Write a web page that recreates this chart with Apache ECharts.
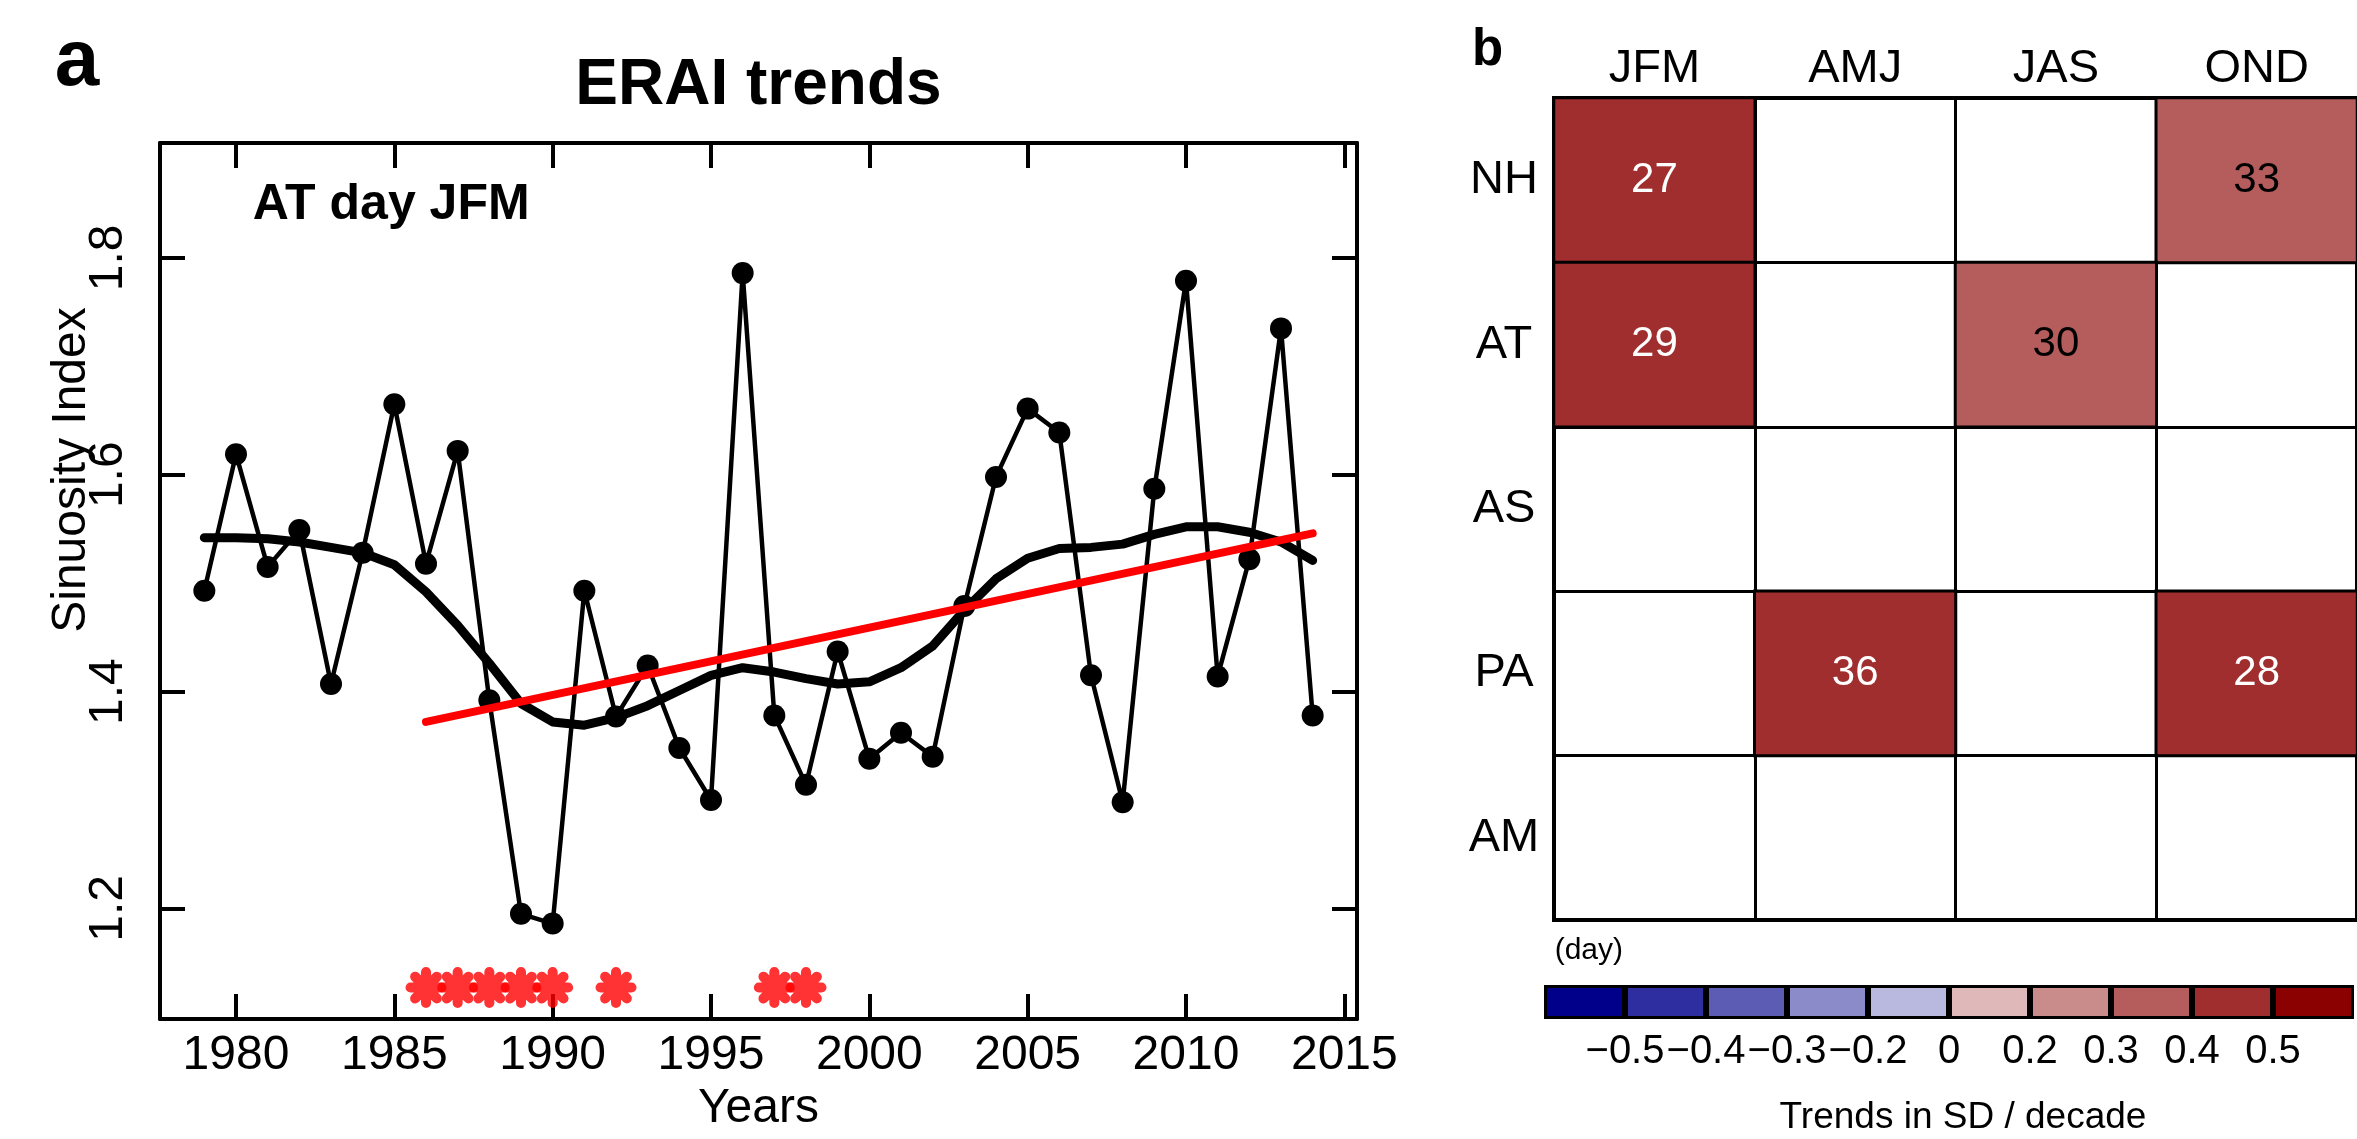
<!DOCTYPE html>
<html>
<head>
<meta charset="utf-8">
<script src="https://cdn.jsdelivr.net/npm/echarts@6/dist/echarts.min.js"></script>
<style>
html,body{margin:0;padding:0;background:#fff;}
#c{width:2357px;height:1139px;}
</style>
</head>
<body>
<div id="c"></div>
<script>
// ---------- Panel a data ----------
const years = [1979,1980,1981,1982,1983,1984,1985,1986,1987,1988,1989,1990,1991,1992,1993,1994,1995,1996,
               1997,1998,1999,2000,2001,2002,2003,2004,2005,2006,2007,2008,2009,2010,2011,2012,2013,2014];
const sinuosity = [1.493,1.619,1.515,1.549,1.407,1.528,1.665,1.518,1.622,1.392,1.195,1.186,1.493,1.377,1.424,1.348,1.300,1.786,
                   1.378,1.314,1.437,1.338,1.362,1.340,1.479,1.598,1.661,1.639,1.415,1.298,1.587,1.779,1.414,1.522,1.735,1.378];
const smoothed = [1.542,1.542,1.541,1.538,1.533,1.528,1.517,1.492,1.461,1.426,1.389,1.372,1.369,1.376,1.387,1.401,1.415,1.422,
                  1.418,1.412,1.407,1.409,1.422,1.442,1.475,1.504,1.523,1.532,1.533,1.536,1.545,1.552,1.552,1.547,1.538,1.521];
const trendYears = [1986, 2014];
const trendValues = [1.372, 1.546];
const starYears = [1986,1987,1988,1989,1990,1992,1997,1998];
const starLevel = 1.127;
const xTicks = [1980,1985,1990,1995,2000,2005,2010,2015];
const xTickLabels = ['1980','1985','1990','1995','2000','2005','2010','2015'];
const yTicks = [1.2,1.4,1.6,1.8];
const yTickLabels = ['1.2','1.4','1.6','1.8'];

// ---------- Panel b data ----------
const seasons = ['JFM','AMJ','JAS','OND'];
const regions = ['NH','AT','AS','PA','AM'];
const cellSeason = ['JFM','OND','JFM','JAS','AMJ','OND'];
const cellRegion = ['NH','NH','AT','AT','PA','PA'];
const cellTrend  = [0.45,0.35,0.45,0.35,0.45,0.45];
const cellLabel  = [27,33,29,30,36,28];
const colorBreaks = [-0.5,-0.4,-0.3,-0.2,0,0.2,0.3,0.4,0.5];
const colorBreakLabels = ['\u22120.5','\u22120.4','\u22120.3','\u22120.2','0','0.2','0.3','0.4','0.5'];
const binColors = ['#00008B','#2E2EA0','#5C5CB5','#8B8BCA','#B9B9DF','#DFB9B9','#CA8B8B','#B55C5C','#A02E2E','#8B0000'];

// ---------- build ----------
const FONT = '"Liberation Sans", Arial, Helvetica, sans-serif';
const STAR = 'path://' +
  'M-8,-2.6 L8,-2.6 A2.6,2.6 0 0 1 8,2.6 L-8,2.6 A2.6,2.6 0 0 1 -8,-2.6 Z ' +
  'M2.6,-8 L2.6,8 A2.6,2.6 0 0 1 -2.6,8 L-2.6,-8 A2.6,2.6 0 0 1 2.6,-8 Z ' +
  'M7.495,3.819 A2.6,2.6 0 0 1 3.819,7.495 L-7.495,-3.819 A2.6,2.6 0 0 1 -3.819,-7.495 Z ' +
  'M3.819,-7.495 A2.6,2.6 0 0 1 7.495,-3.819 L-3.819,7.495 A2.6,2.6 0 0 1 -7.495,3.819 Z';
const black4 = {color:'#000', width:4};
const tickStyle = {color:'#000', width:4};

const pieces = [];
for (let i = 0; i <= colorBreaks.length; i++) {
  const p = {color: binColors[i]};
  if (i > 0) p.gte = colorBreaks[i-1];
  if (i < colorBreaks.length) p.lt = colorBreaks[i];
  pieces.push(p);
}

const heatData = cellTrend.map((t, i) => ({
  value: [seasons.indexOf(cellSeason[i]), regions.indexOf(cellRegion[i]), t],
  label: {color: t >= 0.4 ? '#FFFFFF' : '#000000'}
}));

function nearestLabel(v, ticks, labels) {
  let best = 0;
  for (let i = 1; i < ticks.length; i++) if (Math.abs(ticks[i]-v) < Math.abs(ticks[best]-v)) best = i;
  return labels[best];
}

const chart = echarts.init(document.getElementById('c'), null, {renderer:'canvas', width:2357, height:1139});
chart.setOption({
  animation: false,
  backgroundColor: '#FFFFFF',
  textStyle: {fontFamily: FONT},
  grid: [
    {left:160, top:143, width:1197, height:876},
    {left:1554, top:98, width:822, height:822, show:true, borderColor:'#000', borderWidth:4, backgroundColor:'transparent'},
    {left:1544, top:985, width:838, height:34}
  ],
  xAxis: [
    {gridIndex:0, type:'value', min:1977.6, max:2015.4, position:'bottom',
     axisLine:{show:true, onZero:false, lineStyle:black4},
     axisTick:{show:true, inside:true, length:25, lineStyle:tickStyle, customValues:xTicks},
     axisLabel:{show:true, customValues:xTicks, fontSize:48, fontFamily:FONT, color:'#000', margin:13,
       formatter: v => nearestLabel(v, xTicks, xTickLabels)},
     splitLine:{show:false},
     name:'Years', nameLocation:'middle', nameGap:66,
     nameTextStyle:{fontSize:48, fontFamily:FONT, color:'#000'}},
    {gridIndex:0, type:'value', min:1977.6, max:2015.4, position:'top',
     axisLine:{show:true, onZero:false, lineStyle:black4},
     axisTick:{show:true, inside:true, length:25, lineStyle:tickStyle, customValues:xTicks},
     axisLabel:{show:false}, splitLine:{show:false}},
    {gridIndex:1, type:'category', data:seasons, position:'top',
     axisLine:{show:false}, axisTick:{show:false},
     axisLabel:{fontSize:47, fontFamily:FONT, color:'#000', margin:5, interval:0},
     splitLine:{show:true, interval:0, lineStyle:{color:'#000', width:3}}},
    {gridIndex:2, type:'category', data:binColors.map((c,i)=>String(i)), position:'top', show:false},
    {gridIndex:2, type:'value', min:0, max:10, interval:1, position:'bottom',
     axisLine:{show:false}, axisTick:{show:false}, splitLine:{show:false},
     axisLabel:{fontSize:40, fontFamily:FONT, color:'#000', margin:13,
       formatter: v => { const k = Math.round(v); return (k >= 1 && k <= colorBreakLabels.length) ? colorBreakLabels[k-1] : ''; }}}
  ],
  yAxis: [
    {gridIndex:0, type:'value', min:1.098, max:1.906, position:'left',
     axisLine:{show:true, onZero:false, lineStyle:black4},
     axisTick:{show:true, inside:true, length:25, lineStyle:tickStyle, customValues:yTicks},
     axisLabel:{show:true, customValues:yTicks, rotate:90, fontSize:48, fontFamily:FONT, color:'#000', margin:27,
       formatter: v => nearestLabel(v, yTicks, yTickLabels)},
     splitLine:{show:false}},
    {gridIndex:0, type:'value', min:1.098, max:1.906, position:'right',
     axisLine:{show:true, onZero:false, lineStyle:black4},
     axisTick:{show:true, inside:true, length:25, lineStyle:tickStyle, customValues:yTicks},
     axisLabel:{show:false}, splitLine:{show:false}},
    {gridIndex:1, type:'category', data:regions, inverse:true,
     axisLine:{show:false}, axisTick:{show:false},
     axisLabel:{fontSize:47, fontFamily:FONT, color:'#000', margin:50, align:'center', interval:0},
     splitLine:{show:true, interval:0, lineStyle:{color:'#000', width:3}}},
    {gridIndex:2, type:'value', min:0, max:1, show:false}
  ],
  visualMap: [{type:'piecewise', show:false, seriesIndex:4, dimension:2, pieces: pieces}],
  series: [
    {type:'line', xAxisIndex:0, yAxisIndex:0, silent:true, z:2,
     data: years.map((y,i)=>[y, smoothed[i]]), symbol:'none',
     lineStyle:{color:'#000', width:9, cap:'round', join:'round'}},
    {type:'line', xAxisIndex:0, yAxisIndex:0, silent:true, z:3,
     data: years.map((y,i)=>[y, sinuosity[i]]), symbol:'circle', symbolSize:22, showAllSymbol:true,
     itemStyle:{color:'#000'}, lineStyle:{color:'#000', width:4.5}},
    {type:'line', xAxisIndex:0, yAxisIndex:0, silent:true, z:4,
     data: trendYears.map((y,i)=>[y, trendValues[i]]), symbol:'none',
     lineStyle:{color:'#FF0000', width:8, cap:'round'}},
    {type:'scatter', xAxisIndex:0, yAxisIndex:0, silent:true, z:5,
     data: starYears.map(y=>[y, starLevel]), symbol:STAR, symbolSize:41,
     itemStyle:{color:'#FF0000'}},
    {type:'heatmap', xAxisIndex:2, yAxisIndex:2, silent:true,
     data: heatData,
     label:{show:true, fontSize:42, fontFamily:FONT,
       formatter: p => String(cellLabel[p.dataIndex])},
     itemStyle:{borderColor:'#000', borderWidth:3}},
    {type:'bar', xAxisIndex:3, yAxisIndex:3, silent:true,
     data: binColors.map(c=>({value:1, itemStyle:{color:c}})),
     barWidth:'100%', itemStyle:{borderColor:'#000', borderWidth:3}}
  ],
  graphic: [
    {type:'text', x:758.5, y:86, style:{text:'ERAI trends', font:'bold 64px ' + FONT, fill:'#000', align:'center', verticalAlign:'middle'}},
    {type:'text', x:77, y:63, style:{text:'a', font:'bold 80px ' + FONT, fill:'#000', align:'center', verticalAlign:'middle'}},
    {type:'text', x:1487.5, y:51, style:{text:'b', font:'bold 51px ' + FONT, fill:'#000', align:'center', verticalAlign:'middle'}},
    {type:'text', x:252.7, y:205, style:{text:'AT day JFM', font:'bold 50px ' + FONT, fill:'#000', align:'left', verticalAlign:'middle'}},
    {type:'text', x:72, y:470, rotation:Math.PI/2, style:{text:'Sinuosity Index', font:'48px ' + FONT, fill:'#000', align:'center', verticalAlign:'middle'}},
    {type:'text', x:1554.7, y:951, style:{text:'(day)', font:'30px ' + FONT, fill:'#000', align:'left', verticalAlign:'middle'}},
    {type:'text', x:1963, y:1118, style:{text:'Trends in SD / decade', font:'37px ' + FONT, fill:'#000', align:'center', verticalAlign:'middle'}}
  ]
});
</script>
</body>
</html>
